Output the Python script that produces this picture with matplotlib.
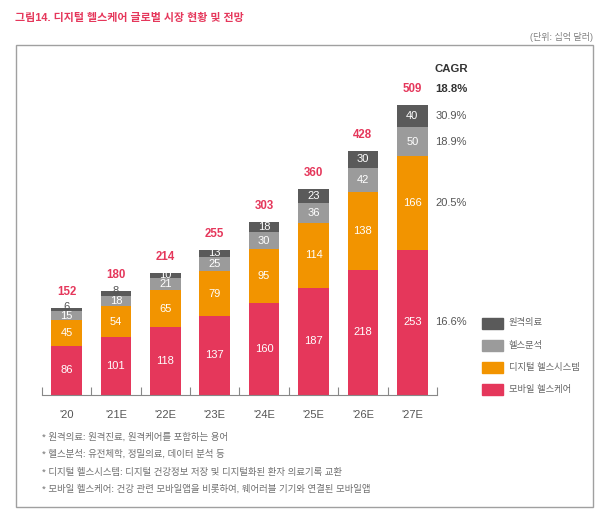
import numpy as np
import matplotlib
matplotlib.use("Agg")
import matplotlib.pyplot as plt
from matplotlib.patches import Rectangle

plt.rcParams['font.family'] = ['Liberation Sans', 'Noto Sans CJK KR']

# data (단위: 십억 달러)
years = ["'20", "'21E", "'22E", "'23E", "'24E", "'25E", "'26E", "'27E"]
mobile = [86, 101, 118, 137, 160, 187, 218, 253]
systems = [45, 54, 65, 79, 95, 114, 138, 166]
analytics = [15, 18, 21, 25, 30, 36, 42, 50]
tele = [6, 8, 10, 13, 18, 23, 30, 40]
totals = [152, 180, 214, 255, 303, 360, 428, 509]
series_names = ['모바일 헬스케어', '디지털 헬스시스템', '헬스분석', '원격의료']
cagr_parts = ['16.6%', '20.5%', '18.9%', '30.9%']
cagr_total = '18.8%'
notes = [
    '* 원격의료: 원격진료, 원격케어를 포함하는 용어',
    '* 헬스분석: 유전체학, 정밀의료, 데이터 분석 등',
    '* 디지털 헬스시스템: 디지털 건강정보 저장 및 디지털화된 환자 의료기록 교환',
    '* 모바일 헬스케어: 건강 관련 모바일앱을 비롯하여, 웨어러블 기기와 연결된 모바일앱',
]

colors = ['#E5375B', '#F29400', '#9B9B9B', '#5A5A5A']
pink = '#E5375B'
W, H = 610, 517


def fx(px):
    return px / W


def fy(py):
    return 1 - py / H


fig = plt.figure(figsize=(6.1, 5.17), dpi=100)

# outer frame
fig.patches.append(Rectangle((fx(15.5), fy(507)), fx(593) - fx(15.5), fy(45) - fy(507),
                             transform=fig.transFigure, fill=False,
                             edgecolor='#A0A0A0', linewidth=1.0))

fig.text(fx(15), fy(17.5), '그림14. 디지털 헬스케어 글로벌 시장 현황 및 전망',
         color=pink, fontsize=7.9, fontweight='bold', va='center', ha='left')
fig.text(fx(593), fy(37), '(단위: 십억 달러)', color='#808080', fontsize=6.5,
         va='center', ha='right')

ax = fig.add_axes([fx(41.8), fy(394.5), fx(437) - fx(41.8), fy(60) - fy(394.5)])
x = np.arange(len(years))
stack = [mobile, systems, analytics, tele]
bottom = np.zeros(len(years))
for vals, c in zip(stack, colors):
    ax.bar(x, vals, bottom=bottom, width=0.62, color=c, edgecolor='none')
    for i, v in enumerate(vals):
        yc = bottom[i] + v / 2
        tc = 'white' if v >= 9 else '#555555'
        if v < 9:
            yc = bottom[i] + v + 1.5
        ax.text(x[i], yc, str(v), ha='center', va='center', color=tc, fontsize=8)
    bottom += np.array(vals)

for i, t in enumerate(totals):
    ax.text(x[i], bottom[i] + 28, str(t), ha='center', va='center', color=pink,
            fontsize=8.3, fontweight='bold')

# CAGR column next to last bar
last = len(years) - 1
cx = last + 0.47
ax.text(cx - 0.03, bottom[last] + 63, 'CAGR', ha='left', va='center', color='#333333',
        fontsize=8.2, fontweight='bold')
ax.text(cx, bottom[last] + 28, cagr_total, ha='left', va='center', color='#333333',
        fontsize=8.2, fontweight='bold')
acc = 0
for vals, lab in zip(stack, cagr_parts):
    ax.text(cx, acc + vals[last] / 2, lab, ha='left', va='center', color='#555555',
            fontsize=8)
    acc += vals[last]

ax.set_xlim(-0.5, 7.5)
ax.set_ylim(0, (394.5 - 60) / 0.5697)
for s in ['top', 'right', 'left']:
    ax.spines[s].set_visible(False)
ax.spines['bottom'].set_color('#888888')
ax.spines['bottom'].set_linewidth(0.8)
ax.set_yticks([])
ax.set_xticks(x)
ax.set_xticklabels(years, fontsize=8, color='#555555')
ax.tick_params(axis='x', which='major', length=0, pad=11)
ax.set_xticks(np.arange(-0.5, 8, 1), minor=True)
ax.tick_params(axis='x', which='minor', direction='in', length=6, color='#888888', width=0.8)
ax.patch.set_alpha(0)

# legend
leg_y = [389, 367, 345, 323]
for name, c, ly in zip(series_names, colors, leg_y):
    fig.patches.append(Rectangle((fx(482), fy(ly + 5.5)), fx(21), fy(0) - fy(11),
                                 transform=fig.transFigure, color=c))
    fig.text(fx(509), fy(ly), name, color='#666666', fontsize=6.7, va='center', ha='left')

for k, n in enumerate(notes):
    fig.text(fx(42), fy(437 + k * 17.5), n, color='#707070', fontsize=6.8, va='center', ha='left')

fig.savefig('out.png', dpi=100)
